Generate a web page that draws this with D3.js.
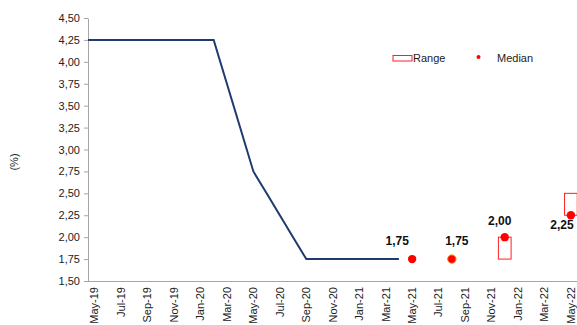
<!DOCTYPE html>
<html><head><meta charset="utf-8">
<script src="https://cdn.jsdelivr.net/npm/d3@7"></script>
<style>
body{margin:0;background:#fff;}
svg{display:block;font-family:"Liberation Sans",Arial,sans-serif;}
</style></head>
<body><svg id="c" width="577" height="325"></svg>
<script>
const months = ["May-19","Jun-19","Jul-19","Aug-19","Sep-19","Oct-19","Nov-19","Dec-19","Jan-20","Feb-20","Mar-20","Apr-20","May-20","Jun-20","Jul-20","Aug-20","Sep-20","Oct-20","Nov-20","Dec-20","Jan-21","Feb-21","Mar-21","Apr-21","May-21","Jun-21","Jul-21","Aug-21","Sep-21","Oct-21","Nov-21","Dec-21","Jan-22","Feb-22","Mar-22","Apr-22","May-22"];
const rateMonths = months.slice(0, 24);
const rateValues = [4.25,4.25,4.25,4.25,4.25,4.25,4.25,4.25,4.25,4.25,3.75,3.25,2.75,2.50,2.25,2.00,1.75,1.75,1.75,1.75,1.75,1.75,1.75,1.75];
const medianMonths = ["May-21","Aug-21","Dec-21","May-22"];
const medianValues = [1.75,1.75,2.00,2.25];
const medianLabels = ["1,75","1,75","2,00","2,25"];
const rangeMonths = ["Dec-21","May-22"];
const rangeLow = [1.75,2.25];
const rangeHigh = [2.00,2.50];
const yTicks = [1.50,1.75,2.00,2.25,2.50,2.75,3.00,3.25,3.50,3.75,4.00,4.25,4.50];

const labelOffsets = [[-15,-14],[5,-14],[-5,-12],[-9,14]];
const medianStroke = ["none","#ff8c00","none","none"];

const svg = d3.select("#c");
const mLeft = 88, mTop = 18, mBottom = 281;
const x = d3.scaleBand().domain(months).range([mLeft, mLeft + 37*13.23]).padding(0);
const y = d3.scaleLinear().domain([1.5,4.5]).range([mBottom, mTop]);
const cx = m => x(m) + x.bandwidth()/2;
const fmt = v => d3.format(".2f")(v).replace(".", ",");

// Y axis
const yAxis = svg.append("g").attr("transform",`translate(${mLeft},0)`)
  .call(d3.axisLeft(y).tickValues(yTicks).tickFormat(fmt).tickSize(4).tickPadding(4).tickSizeOuter(0));
yAxis.select(".domain").attr("stroke","#a6a6a6");
yAxis.selectAll(".tick line").attr("stroke","#a6a6a6");
yAxis.selectAll(".tick text").attr("font-size","11px").attr("fill","#222").attr("font-family","'Liberation Sans',Arial,sans-serif");

// X axis
const xAxis = svg.append("g").attr("transform",`translate(0,${mBottom})`)
  .call(d3.axisBottom(x).tickValues(months.filter((d,i)=>i%2===0)).tickSize(0).tickSizeOuter(0).tickFormat(d=>d));
xAxis.select(".domain").attr("stroke","#a6a6a6").attr("d",`M${mLeft},0.5H577`);
xAxis.selectAll(".tick text")
  .attr("font-size","11px").attr("fill","#222").attr("font-family","'Liberation Sans',Arial,sans-serif")
  .attr("text-anchor","end").attr("transform","translate(0,6) rotate(-90)").attr("x",0).attr("y",0).attr("dy","0.35em");

// y title
svg.append("text").attr("transform","translate(14,162) rotate(-90)").attr("text-anchor","middle")
  .attr("dy","0.35em").attr("font-size","11px").attr("fill","#222").text("(%)");

// line (starts at the plot's left edge, as in the reference)
const linePts = [[x.range()[0], rateValues[0]]].concat(rateMonths.map((m,i)=>[cx(m),rateValues[i]]));
svg.append("path").datum(linePts)
  .attr("fill","none").attr("stroke","#1f3a6d").attr("stroke-width",2)
  .attr("d", d3.line().x(d=>d[0]).y(d=>y(d[1])));

// range boxes
const bw = x.bandwidth()*0.96;
svg.selectAll(".rng").data(rangeMonths).enter().append("rect")
  .attr("x",(d)=>cx(d)-bw/2).attr("width",bw)
  .attr("y",(d,i)=>y(rangeHigh[i])).attr("height",(d,i)=>y(rangeLow[i])-y(rangeHigh[i]))
  .attr("fill","none").attr("stroke","#ff2020").attr("stroke-width",1);

// median points
svg.selectAll(".med").data(medianMonths).enter().append("circle")
  .attr("cx",d=>cx(d)).attr("cy",(d,i)=>y(medianValues[i])).attr("r",4.2).attr("fill","#ff0000")
  .attr("stroke",(d,i)=>medianStroke[i]).attr("stroke-width",1);

svg.selectAll(".medl").data(medianMonths).enter().append("text")
  .attr("x",(d,i)=>cx(d)+labelOffsets[i][0]).attr("y",(d,i)=>y(medianValues[i])+labelOffsets[i][1])
  .attr("text-anchor","middle").attr("font-size","12px").attr("font-weight","bold").attr("fill","#111")
  .text((d,i)=>medianLabels[i]);

// legend
svg.append("rect").attr("x",393).attr("y",55.5).attr("width",19).attr("height",5.5)
  .attr("fill","none").attr("stroke","#ff2020").attr("stroke-width",1);
svg.append("text").attr("x",413).attr("y",62).attr("font-size","11px").attr("fill","#222").text("Range");
svg.append("circle").attr("cx",478.5).attr("cy",57).attr("r",2).attr("fill","#ff0000");
svg.append("text").attr("x",497).attr("y",62).attr("font-size","11px").attr("fill","#222").text("Median");
</script></body></html>
